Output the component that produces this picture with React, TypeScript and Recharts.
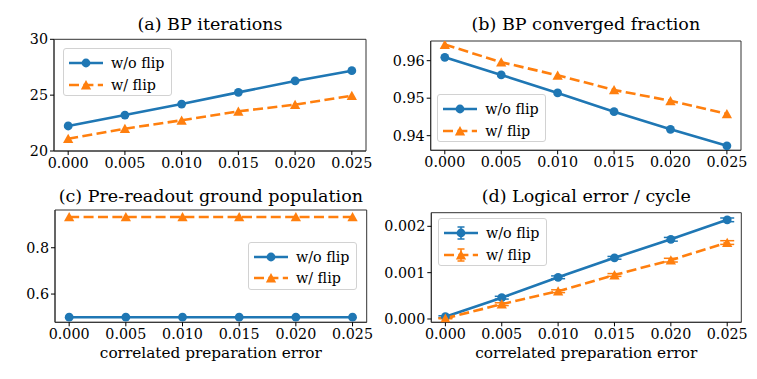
import React from "react";
import { LineChart, Line, XAxis, YAxis, Legend, ErrorBar, ReferenceArea } from "recharts";

// x values: correlated preparation error
const xs = [0, 0.005, 0.01, 0.015, 0.02, 0.025];

// (a) BP iterations
const iterNoFlip = [22.24, 23.22, 24.2, 25.25, 26.27, 27.19];
const iterFlip = [21.1, 22.0, 22.75, 23.55, 24.15, 24.95];

// (b) BP converged fraction
const convNoFlip = [0.9609, 0.9562, 0.9514, 0.9464, 0.9417, 0.9373];
const convFlip = [0.9643, 0.9596, 0.9561, 0.9522, 0.9493, 0.9458];

// (c) pre-readout ground population
const popNoFlip = [0.5, 0.5, 0.5, 0.5, 0.5, 0.5];
const popFlip = [0.933, 0.933, 0.933, 0.933, 0.933, 0.933];

// (d) logical error / cycle, with error bars
const lerNoFlip = [0.00005, 0.00046, 0.0009, 0.00132, 0.00172, 0.00214];
const lerFlip = [0.000015, 0.00032, 0.0006, 0.00095, 0.00127, 0.00165];
const lerNoFlipErr = [0.00002, 0.00003, 0.00003, 0.00003, 0.00004, 0.00004];
const lerFlipErr = [0.00001, 0.00003, 0.00003, 0.00003, 0.00004, 0.00004];

const seriesNames = ["w/o flip", "w/ flip"];

const BLUE = "#1f77b4";
const ORANGE = "#ff7f0e";
const SPINE = "#333";
const FONT = "'DejaVu Serif', 'Liberation Serif', 'Times New Roman', Times, 'Noto Serif', serif";
const LW = 2.6;
const DASH = "10 4.4";
const X_DOMAIN: [number, number] = [-0.00125, 0.02625];

const tickStyle = { fill: "#000", fontSize: 14.3, fontFamily: FONT };

function buildRows(a: number[], b: number[], ea?: number[], eb?: number[]) {
  return xs.map((x, i) => ({ x, a: a[i], b: b[i], ea: ea ? ea[i] : 0, eb: eb ? eb[i] : 0 }));
}

const circleDot = (props: any) => {
  const { cx, cy, index } = props;
  if (cx == null || cy == null) return <g key={`c${index}`} />;
  return <circle key={`c${index}`} cx={cx} cy={cy} r={4.4} fill={BLUE} />;
};

const triPoints = (cx: number, cy: number, s: number) =>
  `${cx},${cy - s} ${cx - s * 1.05},${cy + s * 0.9} ${cx + s * 1.05},${cy + s * 0.9}`;

const triDot = (props: any) => {
  const { cx, cy, index } = props;
  if (cx == null || cy == null) return <g key={`t${index}`} />;
  return <polygon key={`t${index}`} points={triPoints(cx, cy, 4.9)} fill={ORANGE} />;
};

function LegendBox({ errorBars }: { errorBars: boolean }) {
  const rows = [
    { color: BLUE, dash: undefined as string | undefined, tri: false, y: 14 },
    { color: ORANGE, dash: DASH, tri: true, y: 35.5 },
  ];
  return (
    <div
      style={{
        position: "relative",
        width: 109,
        height: 48,
        border: "1px solid #d2d2d2",
        borderRadius: 3,
        background: "rgba(255,255,255,0.8)",
        boxSizing: "border-box",
        fontFamily: FONT,
        fontSize: 14.3,
      }}
    >
      {rows.map((r, i) => (
        <React.Fragment key={i}>
          <svg
            width={36}
            height={20}
            style={{ position: "absolute", left: 4, top: r.y - 10 }}
          >
            <line x1={1} y1={10} x2={35} y2={10} stroke={r.color} strokeWidth={LW} strokeDasharray={r.dash} />
            {errorBars && (
              <g stroke={r.color} strokeWidth={1.5}>
                <line x1={18} y1={4} x2={18} y2={16} />
                <line x1={14.5} y1={4} x2={21.5} y2={4} />
                <line x1={14.5} y1={16} x2={21.5} y2={16} />
              </g>
            )}
            {r.tri ? (
              <polygon points={triPoints(18, 10, 4.9)} fill={r.color} />
            ) : (
              <circle cx={18} cy={10} r={4.4} fill={r.color} />
            )}
          </svg>
          <span
            style={{
              position: "absolute",
              left: 47,
              top: r.y - 10,
              lineHeight: "20px",
              whiteSpace: "nowrap",
              color: "#000",
            }}
          >
            {seriesNames[i]}
          </span>
        </React.Fragment>
      ))}
    </div>
  );
}

type PanelProps = {
  left: number;
  top: number;
  width: number;
  height: number;
  plot: { l: number; r: number; t: number; b: number };
  rows: any[];
  yDomain: [number, number];
  yTicks: number[];
  yFmt: (v: number) => string;
  title: string;
  titleY: number;
  legend: { x: number; y: number };
  xLabel?: string;
  errors?: boolean;
};

function Panel(p: PanelProps) {
  const margin = { top: p.plot.t, right: p.width - p.plot.r, left: 0, bottom: p.height - p.plot.b - 30 };
  return (
    <div style={{ position: "absolute", left: p.left, top: p.top, width: p.width, height: p.height }}>
      <LineChart width={p.width} height={p.height} data={p.rows} margin={margin}>
        <XAxis
          dataKey="x"
          type="number"
          domain={X_DOMAIN}
          ticks={xs}
          interval={0}
          allowDataOverflow
          tickFormatter={(v: number) => v.toFixed(3)}
          height={30}
          tickSize={4}
          tickMargin={3}
          tick={tickStyle}
          tickLine={{ stroke: "#000" }}
          axisLine={{ stroke: SPINE }}
        />
        <YAxis
          type="number"
          domain={p.yDomain}
          ticks={p.yTicks}
          interval={0}
          allowDataOverflow
          tickFormatter={p.yFmt}
          width={p.plot.l}
          tickSize={4}
          tickMargin={2}
          tick={tickStyle}
          tickLine={{ stroke: "#000" }}
          axisLine={{ stroke: SPINE }}
        />
        {/* full box around the axes, like matplotlib spines */}
        <ReferenceArea
          x1={X_DOMAIN[0]}
          x2={X_DOMAIN[1]}
          y1={p.yDomain[0]}
          y2={p.yDomain[1]}
          fill="none"
          fillOpacity={0}
          stroke={SPINE}
          strokeWidth={1}
          ifOverflow="visible"
        />
        <Legend
          layout="horizontal"
          verticalAlign="middle"
          align="center"
          wrapperStyle={{ left: p.legend.x, top: p.legend.y, width: "auto", height: "auto" }}
          content={() => <LegendBox errorBars={!!p.errors} />}
        />
        <Line
          dataKey="a"
          name={seriesNames[0]}
          stroke={BLUE}
          strokeWidth={LW}
          dot={circleDot}
          activeDot={false}
          isAnimationActive={false}
        >
          {p.errors && <ErrorBar dataKey="ea" direction="y" width={7} strokeWidth={1.5} stroke={BLUE} />}
        </Line>
        <Line
          dataKey="b"
          name={seriesNames[1]}
          stroke={ORANGE}
          strokeWidth={LW}
          strokeDasharray={DASH}
          dot={triDot}
          activeDot={false}
          isAnimationActive={false}
        >
          {p.errors && <ErrorBar dataKey="eb" direction="y" width={7} strokeWidth={1.5} stroke={ORANGE} />}
        </Line>
      </LineChart>
      <div
        style={{
          position: "absolute",
          left: p.plot.l - 40,
          width: p.plot.r - p.plot.l + 80,
          top: p.titleY - 10,
          lineHeight: "20px",
          textAlign: "center",
          fontFamily: FONT,
          fontSize: 17.5,
          color: "#000",
          whiteSpace: "nowrap",
        }}
      >
        {p.title}
      </div>
      {p.xLabel && (
        <div
          style={{
            position: "absolute",
            left: p.plot.l - 40,
            width: p.plot.r - p.plot.l + 80,
            top: 163 - 10,
            lineHeight: "20px",
            textAlign: "center",
            fontFamily: FONT,
            fontSize: 15.3,
            color: "#000",
            whiteSpace: "nowrap",
          }}
        >
          {p.xLabel}
        </div>
      )}
    </div>
  );
}

export default function App() {
  return (
    <div style={{ position: "absolute", left: 0, top: 0, width: 757, height: 379, background: "#fff" }}>
      <Panel
        left={0}
        top={0}
        width={378}
        height={190}
        plot={{ l: 54, r: 366, t: 39.3, b: 151 }}
        rows={buildRows(iterNoFlip, iterFlip)}
        yDomain={[20, 30]}
        yTicks={[20, 25, 30]}
        yFmt={(v) => String(v)}
        title="(a) BP iterations"
        titleY={24}
        legend={{ x: 63, y: 48 }}
      />
      <Panel
        left={378}
        top={0}
        width={379}
        height={190}
        plot={{ l: 52.7, r: 363, t: 41, b: 150.3 }}
        rows={buildRows(convNoFlip, convFlip)}
        yDomain={[0.9361, 0.96525]}
        yTicks={[0.94, 0.95, 0.96]}
        yFmt={(v) => v.toFixed(2)}
        title="(b) BP converged fraction"
        titleY={24}
        legend={{ x: 59.3, y: 94.3 }}
      />
      <Panel
        left={0}
        top={190}
        width={378}
        height={189}
        plot={{ l: 55, r: 366.7, t: 20, b: 132.3 }}
        rows={buildRows(popNoFlip, popFlip)}
        yDomain={[0.478, 0.963]}
        yTicks={[0.6, 0.8]}
        yFmt={(v) => v.toFixed(1)}
        title="(c) Pre-readout ground population"
        titleY={6}
        legend={{ x: 248, y: 51.7 }}
        xLabel="correlated preparation error"
      />
      <Panel
        left={378}
        top={190}
        width={379}
        height={189}
        plot={{ l: 53.3, r: 363.3, t: 22.7, b: 132.3 }}
        rows={buildRows(lerNoFlip, lerFlip, lerNoFlipErr, lerFlipErr)}
        yDomain={[-0.0000713, 0.002294]}
        yTicks={[0, 0.001, 0.002]}
        yFmt={(v) => v.toFixed(3)}
        title="(d) Logical error / cycle"
        titleY={6}
        legend={{ x: 60, y: 28.3 }}
        xLabel="correlated preparation error"
        errors
      />
    </div>
  );
}
